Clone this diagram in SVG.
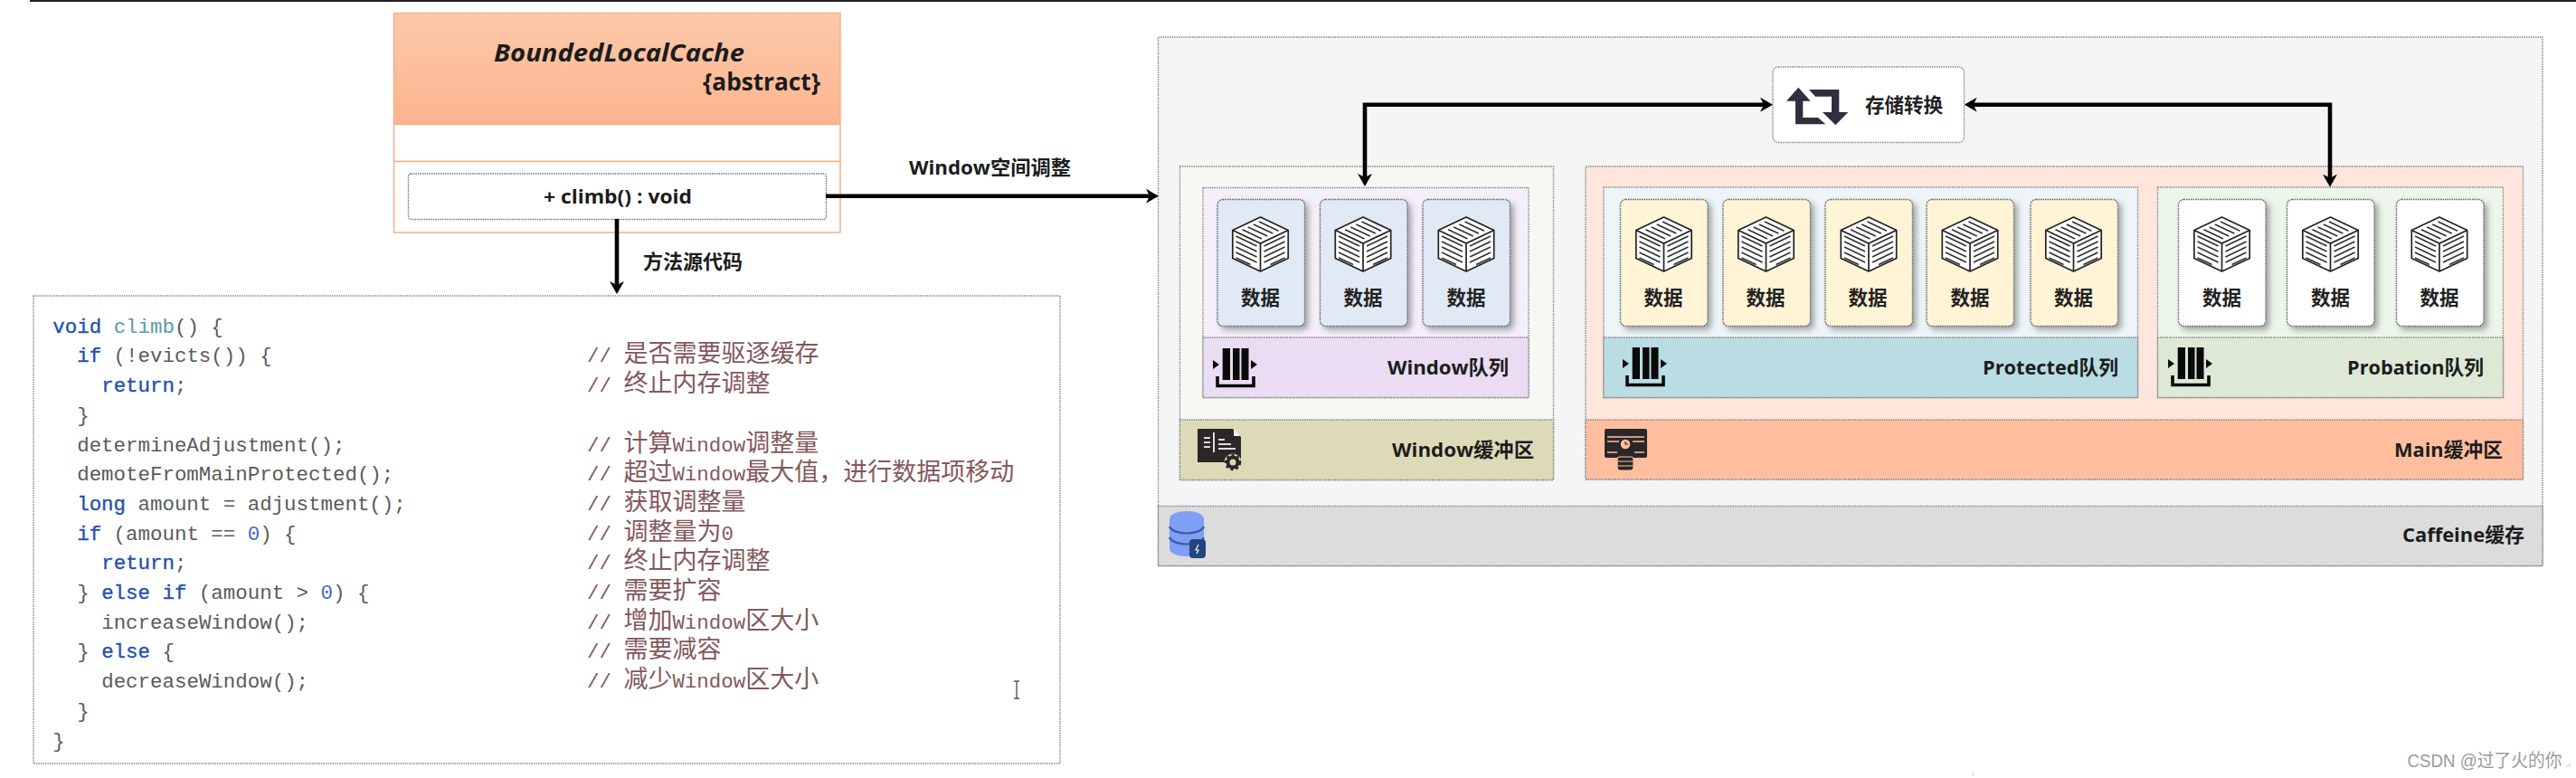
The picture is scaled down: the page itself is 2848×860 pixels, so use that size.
<svg xmlns="http://www.w3.org/2000/svg" xmlns:xlink="http://www.w3.org/1999/xlink" width="2848" height="860" viewBox="0 0 2848 860">
<style>
text{font-family:"Open Sans","Noto Sans CJK SC","Noto Sans",sans-serif;fill:#1c1c1c}
.b{font-weight:700;font-size:22px}
.e{text-anchor:end}
.m{text-anchor:middle}
.box{stroke:#8a8a8a;stroke-width:1.4;stroke-dasharray:1.5 1}
.card{stroke:#666;stroke-width:1.4;stroke-dasharray:1.5 1;filter:url(#sh)}
.lbl{font-weight:700;font-size:21.5px;text-anchor:middle;fill:#222}
.code{font-family:"Liberation Mono","Noto Sans CJK SC",monospace;font-size:22.45px;fill:#5a5a5a;white-space:pre}
.k{fill:#2450b0;stroke:#2450b0;stroke-width:.35}
.n{fill:#3f69c4}
.f{fill:#5a98a8}
.c{fill:#84585c}
.z{font-family:"Noto Sans CJK SC","Noto Sans CJK JP",sans-serif;font-size:27px;fill:#84585c}
.ln{fill:none;stroke:#000;stroke-width:4.6}
</style>
<defs>
<linearGradient id="ug" x1="0" y1="0" x2="0" y2="1"><stop offset="0" stop-color="#fcc9aa"/><stop offset="1" stop-color="#fdb58f"/></linearGradient>
<filter id="sh" x="-15%" y="-15%" width="135%" height="130%"><feDropShadow dx="4" dy="4" stdDeviation="3" flood-color="#444" flood-opacity=".45"/></filter>
<marker id="ah" markerUnits="userSpaceOnUse" viewBox="0 0 14 18" markerWidth="14" markerHeight="18" refX="9" refY="9" orient="auto-start-reverse"><path d="M0,1 L14,9 L0,17 L4,9 Z" fill="#000"/></marker>
<g id="cube">
<path d="M0,-30 L30.7,-15.5 V15.5 L0,30 L-30.7,15.5 V-15.5 Z" fill="#fff" stroke="#222" stroke-width="1.7" stroke-linejoin="round"/>
<path d="M-30.7,-15.5 L0,-1 L30.7,-15.5 M0,-1 V30" fill="none" stroke="#222" stroke-width="1.7"/>
<path d="M-1.5,-24.9 L20,-14.8 M-7.7,-22 L13.8,-11.9 M-13.8,-19.1 L7.7,-9 M-20,-16.2 L1.5,-6.1 M-27,-9 L-4,2 M-27,-3 L-4,8 M-27,3 L-4,14 M-27,9 L-4,20 M-27,15 L-11,22.5 M4,2 L27,-9 M4,8 L27,-3 M4,14 L27,3 M4,20 L27,9 M11,22.5 L27,15" fill="none" stroke="#333" stroke-width="1.7"/>
</g>
<g id="qi">
<path d="M10.7,0 H19 V35 H10.7 Z M22,0 H29.5 V35 H22 Z M31.5,0 H39.5 V35 H31.5 Z M0,13 L7,18 L0,23 Z M42,13 L49,18 L42,23 Z" fill="#0a0a0a"/>
<path d="M5,31 V41.5 H45 V31" fill="none" stroke="#0a0a0a" stroke-width="3.6"/>
</g>
</defs>
<rect width="2848" height="860" fill="#fff"/>
<rect x="33" y="0" width="2815" height="2" fill="#222"/>

<g id="uml-class">
<rect x="435.500" y="14.500" width="493.500" height="123" fill="url(#ug)" stroke="#f4b183" stroke-width="1.5"/>
<rect x="435.500" y="137.500" width="493.500" height="41" fill="#fff" stroke="#f4b183" stroke-width="1.5"/>
<rect x="435.500" y="178.500" width="493.500" height="78.500" fill="#fff" stroke="#f4b183" stroke-width="1.5"/>
<text x="546" y="68" font-size="26" font-weight="700" font-style="italic" textLength="277" lengthAdjust="spacingAndGlyphs">BoundedLocalCache</text>
<text x="777" y="100" font-size="26" font-weight="700" textLength="130" lengthAdjust="spacingAndGlyphs">{abstract}</text>
<g id="method-climb">
<rect x="451.500" y="192" width="462" height="50.500" rx="3" fill="#fff" stroke="#777" stroke-width="1.4" stroke-dasharray="1.5 1"/>
<text x="601" y="225" font-size="22" font-weight="700" textLength="164" lengthAdjust="spacingAndGlyphs">+ climb() : void</text>
</g>
</g>

<g id="code">
<rect class="box" x="37" y="327" width="1135" height="517" fill="#fff"/>
<text class="code" x="58.300" y="367.700"><tspan class="k">void</tspan> <tspan class="f">climb</tspan>() {</text>
<text class="code" x="85.200" y="400.400"><tspan class="k">if</tspan> (!evicts()) {</text>
<text class="code" x="112.200" y="433.100"><tspan class="k">return</tspan>;</text>
<text class="code" x="85.200" y="465.800">}</text>
<text class="code" x="85.200" y="498.500">determineAdjustment();</text>
<text class="code" x="85.200" y="531.200">demoteFromMainProtected();</text>
<text class="code" x="85.200" y="563.900"><tspan class="k">long</tspan> amount = adjustment();</text>
<text class="code" x="85.200" y="596.600"><tspan class="k">if</tspan> (amount == <tspan class="n">0</tspan>) {</text>
<text class="code" x="112.200" y="629.300"><tspan class="k">return</tspan>;</text>
<text class="code" x="85.200" y="662">} <tspan class="k">else if</tspan> (amount &gt; <tspan class="n">0</tspan>) {</text>
<text class="code" x="112.200" y="694.700">increaseWindow();</text>
<text class="code" x="85.200" y="727.400">} <tspan class="k">else</tspan> {</text>
<text class="code" x="112.200" y="760.100">decreaseWindow();</text>
<text class="code" x="85.200" y="792.800">}</text>
<text class="code" x="58.300" y="825.500">}</text>

<text class="code c" x="649" y="400.400">// <tspan class="z">是否需要驱逐缓存</tspan></text>
<text class="code c" x="649" y="433.100">// <tspan class="z">终止内存调整</tspan></text>
<text class="code c" x="649" y="498.500">// <tspan class="z">计算</tspan>Window<tspan class="z">调整量</tspan></text>
<text class="code c" x="649" y="531.200">// <tspan class="z">超过</tspan>Window<tspan class="z">最大值，进行数据项移动</tspan></text>
<text class="code c" x="649" y="563.900">// <tspan class="z">获取调整量</tspan></text>
<text class="code c" x="649" y="596.600">// <tspan class="z">调整量为</tspan>0</text>
<text class="code c" x="649" y="629.300">// <tspan class="z">终止内存调整</tspan></text>
<text class="code c" x="649" y="662">// <tspan class="z">需要扩容</tspan></text>
<text class="code c" x="649" y="694.700">// <tspan class="z">增加</tspan>Window<tspan class="z">区大小</tspan></text>
<text class="code c" x="649" y="727.400">// <tspan class="z">需要减容</tspan></text>
<text class="code c" x="649" y="760.100">// <tspan class="z">减少</tspan>Window<tspan class="z">区大小</tspan></text>
<path d="M1121,753 H1127 M1124,753 V772 M1121,772 H1127" fill="none" stroke="#555" stroke-width="1.4"/>
</g>

<g id="caffeine">
<rect class="box" x="1280.500" y="41" width="1530.500" height="584.500" fill="#f5f5f5"/>
<rect class="box" x="1280.500" y="559.500" width="1530.500" height="66" fill="#dcdcdc"/>
<text class="b" x="2656" y="599" textLength="135" lengthAdjust="spacingAndGlyphs">Caffeine缓存</text>
<g id="db-icon">
<path d="M1293,574 C1293,562 1331,562 1331,574 V606 C1331,618 1293,618 1293,606 Z" fill="#7f9ff5"/>
<path d="M1293,582 C1297,592 1327,592 1331,582 M1293,594 C1297,604 1327,604 1331,594" fill="none" stroke="#3c5ba8" stroke-width="2.2"/>
<rect x="1315" y="596" width="18" height="21" rx="4" fill="#24457f"/>
<path d="M1325,602 L1322,608 H1325 L1323,612" fill="none" stroke="#fff" stroke-width="1.2"/>
</g>
</g>

<g id="window-buffer">
<rect class="box" x="1304.500" y="184" width="413" height="346.500" fill="#f7f7f3"/>
<rect class="box" x="1304.500" y="464" width="413" height="66.500" fill="#dddab8"/>
<text class="b" x="1539" y="505" textLength="157" lengthAdjust="spacingAndGlyphs">Window缓冲区</text>
<g id="window-buffer-icon">
<path d="M1324,474 H1363 L1372,483 V511 H1324 Z" fill="#2b2729"/>
<path d="M1364,474 L1371,482 H1364 Z" fill="#fff"/>
<path d="M1342,478 V500 M1331,484 H1338 M1331,489 H1338 M1331,494 H1338 M1347,486 H1354 M1347,491 H1361 M1347,496 H1366" stroke="#ddd" stroke-width="2" fill="none"/>
<circle cx="1363" cy="511" r="9.500" fill="#dddab8"/>
<circle cx="1363" cy="511" r="5.500" fill="none" stroke="#2b2729" stroke-width="4"/>
<circle cx="1363" cy="511" r="8" fill="none" stroke="#2b2729" stroke-width="2.500" stroke-dasharray="3 3"/>
</g>
</g>

<g id="window-queue">
<rect class="box" x="1330" y="207.500" width="360" height="232" fill="#f5effa"/>
<rect class="box" x="1330" y="373" width="360" height="66.500" fill="#e9dcf3"/>
<use href="#qi" x="1341" y="385"/>
<text class="b" x="1534" y="414" textLength="134" lengthAdjust="spacingAndGlyphs">Window队列</text>
</g>
<g id="w1"><rect class="card" x="1346" y="220.500" width="96.500" height="140" rx="6" fill="#dfeaf5"/><use href="#cube" x="1393.500" y="270"/><text class="lbl" x="1393.500" y="337">数据</text></g>
<g id="w2"><rect class="card" x="1459.500" y="220.500" width="96.500" height="140" rx="6" fill="#dfeaf5"/><use href="#cube" x="1507" y="270"/><text class="lbl" x="1507" y="337">数据</text></g>
<g id="w3"><rect class="card" x="1573" y="220.500" width="96.500" height="140" rx="6" fill="#dfeaf5"/><use href="#cube" x="1621" y="270"/><text class="lbl" x="1621" y="337">数据</text></g>

<g id="main-buffer">
<rect class="box" x="1753" y="184" width="1036.500" height="346" fill="#ffe6dc"/>
<rect class="box" x="1753" y="464" width="1036.500" height="66" fill="#ffbf9e"/>
<text class="b" x="2647" y="505" textLength="120" lengthAdjust="spacingAndGlyphs">Main缓冲区</text>
<g id="main-buffer-icon">
<rect x="1774" y="474" width="47" height="32" rx="2" fill="#2b2729"/>
<path d="M1777,483 H1818 M1777,488 H1790 M1805,488 H1818 M1777,500 H1788 M1807,500 H1818" stroke="#ffbf9e" stroke-width="1.600" fill="none"/>
<circle cx="1797" cy="491" r="6" fill="#ffbf9e" stroke="#2b2729" stroke-width="1.500"/>
<path d="M1797,488 V491 H1800" stroke="#2b2729" stroke-width="1.200" fill="none"/>
<rect x="1788" y="505" width="18" height="15" rx="3" fill="#2b2729" stroke="#ffbf9e" stroke-width="1.200"/>
<path d="M1788,510 H1806 M1788,515 H1806" stroke="#ffbf9e" stroke-width="1.200"/>
</g>
</g>

<g id="protected-queue">
<rect class="box" x="1773" y="207" width="590.500" height="232.500" fill="#edf5f9"/>
<rect class="box" x="1773" y="373" width="590.500" height="66.500" fill="#b9dde3"/>
<use href="#qi" x="1794" y="384"/>
<text class="b" x="2192" y="414" textLength="150" lengthAdjust="spacingAndGlyphs">Protected队列</text>
</g>
<g id="p1"><rect class="card" x="1791.500" y="220.500" width="96.500" height="140" rx="6" fill="#fff4d6"/><use href="#cube" x="1839.500" y="270"/><text class="lbl" x="1839" y="337">数据</text></g>
<g id="p2"><rect class="card" x="1905" y="220.500" width="96.500" height="140" rx="6" fill="#fff4d6"/><use href="#cube" x="1952.500" y="270"/><text class="lbl" x="1952" y="337">数据</text></g>
<g id="p3"><rect class="card" x="2018" y="220.500" width="96.500" height="140" rx="6" fill="#fff4d6"/><use href="#cube" x="2066" y="270"/><text class="lbl" x="2065" y="337">数据</text></g>
<g id="p4"><rect class="card" x="2130" y="220.500" width="96.500" height="140" rx="6" fill="#fff4d6"/><use href="#cube" x="2178" y="270"/><text class="lbl" x="2178" y="337">数据</text></g>
<g id="p5"><rect class="card" x="2245" y="220.500" width="96.500" height="140" rx="6" fill="#fff4d6"/><use href="#cube" x="2292.500" y="270"/><text class="lbl" x="2292.500" y="337">数据</text></g>

<g id="probation-queue">
<rect class="box" x="2385.500" y="207" width="382" height="232.500" fill="#edf6ea"/>
<rect class="box" x="2385.500" y="373" width="382" height="66.500" fill="#dde9d5"/>
<use href="#qi" x="2397" y="384"/>
<text class="b" x="2595" y="414" textLength="151" lengthAdjust="spacingAndGlyphs">Probation队列</text>
</g>
<g id="b1"><rect class="card" x="2408.500" y="220.500" width="96.500" height="140" rx="6" fill="#fff"/><use href="#cube" x="2456.500" y="270"/><text class="lbl" x="2456.500" y="337">数据</text></g>
<g id="b2"><rect class="card" x="2528.500" y="220.500" width="96.500" height="140" rx="6" fill="#fff"/><use href="#cube" x="2576.500" y="270"/><text class="lbl" x="2576.500" y="337">数据</text></g>
<g id="b3"><rect class="card" x="2649.500" y="220.500" width="96.500" height="140" rx="6" fill="#fff"/><use href="#cube" x="2697" y="270"/><text class="lbl" x="2697" y="337">数据</text></g>

<g id="storage-convert">
<rect class="box" x="1960" y="74" width="211.500" height="83.500" rx="6" fill="#fff"/>
<path d="M1988.300,96.700 L1975,111.700 H1985 V137.300 H2018.300 L2010,130 H1993.300 V111.700 H2001.700 Z M2029.300,138.300 L2015,124 H2025 V106.700 H2007 L2000,99 H2033.300 V124 H2043.300 Z" fill="#2f2f3f"/>
<text class="lbl" x="2105" y="124">存储转换</text>
</g>

<g id="connectors">
<path class="ln" d="M913,216.700 H1276" marker-end="url(#ah)"/>
<path class="ln" d="M682,242 V320" marker-end="url(#ah)"/>
<path class="ln" d="M1955,115.700 H1509 V201" marker-start="url(#ah)" marker-end="url(#ah)"/>
<path class="ln" d="M2176.700,115.700 H2576 V201.700" marker-start="url(#ah)" marker-end="url(#ah)"/>
</g>
<text class="b" x="1005" y="193" textLength="179" lengthAdjust="spacingAndGlyphs">Window空间调整</text>
<text class="b m" x="766" y="297">方法源代码</text>

<g id="watermark">
<text x="2661.500" y="848" font-size="20" textLength="171" lengthAdjust="spacingAndGlyphs" style="font-family:'Liberation Sans','Noto Sans CJK SC',sans-serif;fill:#9a9a9a">CSDN @过了火的你</text>
<path d="M2841,843 V847 H2837" fill="none" stroke="#ccc" stroke-width="1"/>
<path d="M2181,853 V858" stroke="#ccc" stroke-width="1"/>
</g>
</svg>
